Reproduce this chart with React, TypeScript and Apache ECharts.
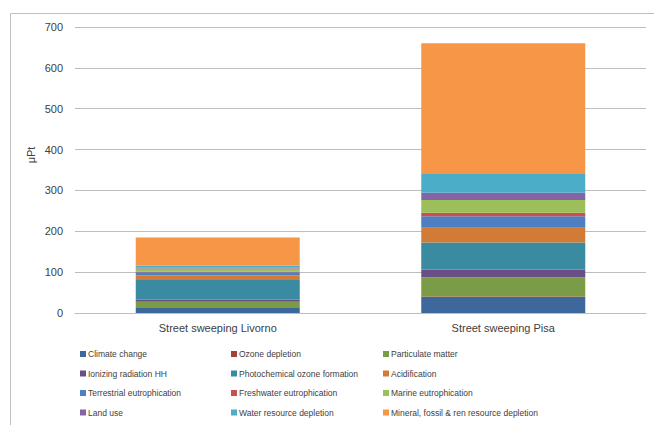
import React, { useEffect, useRef } from "react";
import * as echarts from "echarts";

const categories = ["Street sweeping Livorno", "Street sweeping Pisa"];

const seriesNames = [
  "Climate change",
  "Ozone depletion",
  "Particulate matter",
  "Ionizing radiation HH",
  "Photochemical ozone formation",
  "Acidification",
  "Terrestrial eutrophication",
  "Freshwater eutrophication",
  "Marine eutrophication",
  "Land use",
  "Water resource depletion",
  "Mineral, fossil & ren resource depletion",
];

// values per series: [Livorno, Pisa]
const climateChange = [12, 39];
const ozoneDepletion = [0.5, 1.5];
const particulateMatter = [15, 47];
const ionizingRadiation = [5.5, 19];
const photochemicalOzone = [47.5, 66];
const acidification = [11, 36];
const terrestrialEutro = [8, 28];
const freshwaterEutro = [1.5, 9];
const marineEutro = [8, 31];
const landUse = [2.5, 18];
const waterResource = [5, 46];
const mineralResource = [68, 320];

const seriesValues = [
  climateChange,
  ozoneDepletion,
  particulateMatter,
  ionizingRadiation,
  photochemicalOzone,
  acidification,
  terrestrialEutro,
  freshwaterEutro,
  marineEutro,
  landUse,
  waterResource,
  mineralResource,
];

const colors = [
  "#3E679B",
  "#A2403D",
  "#7B9C47",
  "#6A4F87",
  "#3A8AA2",
  "#D27B36",
  "#4D7FC2",
  "#C9504B",
  "#9CBF5A",
  "#8464A6",
  "#4BADC8",
  "#F79646",
];

const yTicks = { min: 0, max: 700, interval: 100 };

export default function App() {
  const ref = useRef<HTMLDivElement>(null);

  useEffect(() => {
    if (!ref.current) return;
    const chart = echarts.init(ref.current, null, { renderer: "svg" });
    const font = "Liberation Sans";
    const legendCols = [0, 1, 2].map((c) => ({
      orient: "vertical",
      left: [80, 231, 383][c],
      top: 348,
      itemWidth: 6,
      itemHeight: 6,
      itemGap: 7.5,
      icon: "rect",
      textStyle: {
        fontFamily: font,
        fontSize: 8.5,
        color: "#404040",
        lineHeight: 12,
        padding: [0, 0, 0, -3],
      },
      padding: 0,
      data: seriesNames.filter((_, i) => i % 3 === c),
    }));

    chart.setOption({
      animation: false,
      color: colors,
      textStyle: { fontFamily: font },
      grid: { left: 75, right: 8, top: 27, bottom: 112, containLabel: false },
      legend: legendCols,
      xAxis: {
        type: "category",
        data: categories,
        axisLine: { show: true, lineStyle: { color: "#BDBDBD", width: 1 } },
        axisTick: { show: false },
        axisLabel: {
          margin: 9,
          fontSize: 11,
          color: "#404040",
          fontFamily: font,
        },
      },
      yAxis: {
        type: "value",
        min: yTicks.min,
        max: yTicks.max,
        interval: yTicks.interval,
        axisLine: { show: false },
        axisTick: { show: false },
        splitLine: { lineStyle: { color: "#BDBDBD", width: 1 } },
        axisLabel: {
          margin: 12,
          fontSize: 11,
          color: "#404040",
          fontFamily: font,
        },
      },
      series: seriesNames.map((name, i) => ({
        name,
        type: "bar",
        stack: "total",
        barWidth: 164,
        data: seriesValues[i],
        itemStyle: { color: colors[i] },
      })),
      graphic: [
        {
          type: "rect",
          shape: { x: 10.5, y: 13.5, width: 700, height: 500 },
          style: { fill: "none", stroke: "#BFBFBF", lineWidth: 1 },
          silent: true,
        },
        {
          type: "text",
          x: 31,
          y: 155,
          rotation: Math.PI / 2,
          style: {
            text: "μPt",
            fontSize: 11,
            fontFamily: font,
            fill: "#404040",
            align: "center",
            verticalAlign: "middle",
          },
        },
      ],
    });
    return () => chart.dispose();
  }, []);

  return (
    <div
      ref={ref}
      style={{ position: "fixed", left: 0, top: 0, width: 654, height: 425, background: "#fff" }}
    />
  );
}
